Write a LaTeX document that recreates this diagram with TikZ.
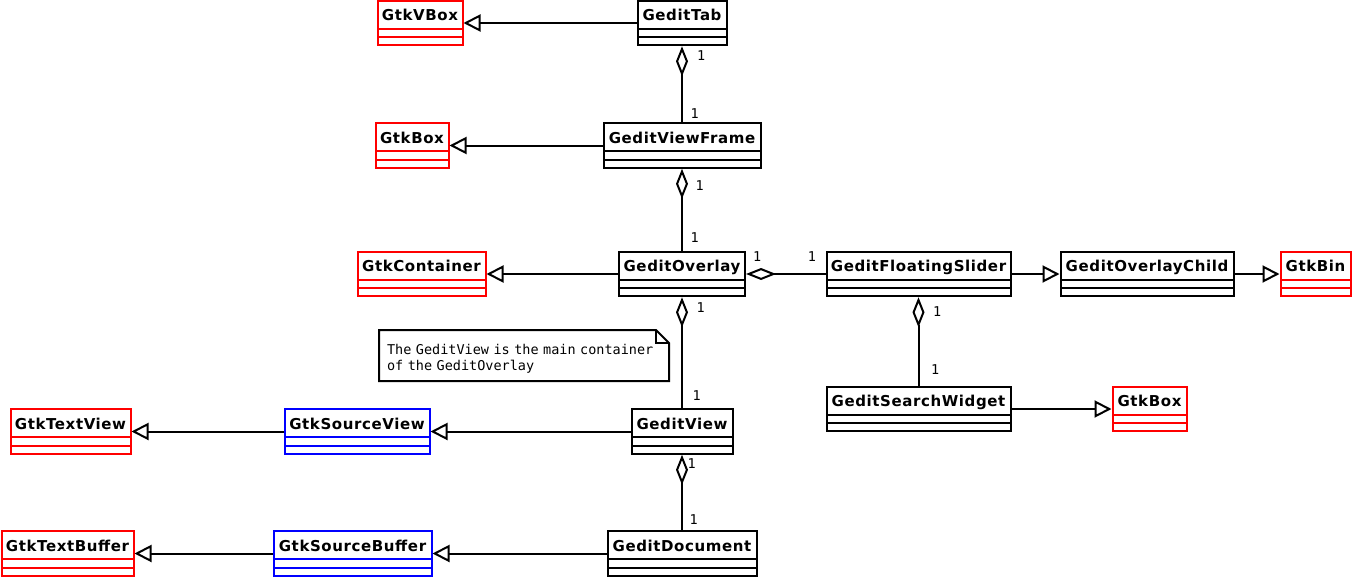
\documentclass[tikz,border=0pt]{standalone}
\usepackage{fontspec}
\newfontfamily\classfont[LetterSpace=4]{DejaVu Sans}
\newfontfamily\notefont{DejaVu Sans Mono}
\usepackage{tikz}
\usetikzlibrary{arrows.meta}
\usetikzlibrary{shapes.multipart,positioning,calc}
\tikzset{
	every path/.style = {line width=2pt},
	class/.style = {draw, rectangle split, rectangle split parts=3,
		rectangle split empty part height=0pt, rectangle split empty part depth=0pt,
		inner xsep=3pt, inner ysep=1pt,
		font=\classfont\bfseries\fontsize{15}{18}\selectfont,
		execute at begin node={\rule[-6pt]{0pt}{24pt}}},
	gtk/.style = {class, draw=red},
	src/.style = {class, draw=blue}
}

\begin{document}
\begin{tikzpicture}[x=1pt,y=-1pt,
	mult/.style={font=\notefont\fontsize{13.5}{16}\selectfont, inner sep=0pt},
	comment/.style={font=\notefont\fontsize{13.5}{16}\selectfont, align=left, anchor=north west,
		text width=274pt, inner xsep=7pt, minimum height=49pt},
	gen/.style={-{Triangle[open,length=17pt,width=17pt]}},
	agg/.style={{Diamond[open,length=30pt,width=12pt]}-}]
	\useasboundingbox (0,0) rectangle (1353,578);
	% main column
	\node[class, minimum width=89pt] (tab) at (682,23) {GeditTab};
	\node[class, minimum width=157pt, below of=tab, node distance=122.5pt] (frame) {GeditViewFrame};
	\node[class, minimum width=126pt, below of=frame, node distance=128.5pt] (overlay) {GeditOverlay};
	\node[class, minimum width=101pt, below of=overlay, node distance=157.5pt] (view) {GeditView};
	\node[class, minimum width=149pt, below of=view, node distance=122pt] (doc) {GeditDocument};
	% parents on the left
	\node[gtk, minimum width=85pt, left of=tab, node distance=262pt] (vbox) {GtkVBox};
	\node[gtk, minimum width=73pt, left of=frame, node distance=270pt] (box) {GtkBox};
	\node[gtk, minimum width=128pt, left of=overlay, node distance=260.5pt] (container) {GtkContainer};
	\node[src, minimum width=145pt, left of=view, node distance=325pt] (srcview) {GtkSourceView};
	\node[gtk, minimum width=120pt, left of=srcview, node distance=286.5pt] (textview) {GtkTextView};
	\node[src, minimum width=158pt, left of=doc, node distance=329.5pt] (srcbuf) {GtkSourceBuffer};
	\node[gtk, minimum width=132pt, left of=srcbuf, node distance=285pt] (textbuf) {GtkTextBuffer};
	% slider on the right
	\node[class, minimum width=184pt, right of=overlay, node distance=236.5pt] (slider) {GeditFloatingSlider};
	\node[class, minimum width=173pt, right of=slider, node distance=228.5pt] (child) {GeditOverlayChild};
	\node[gtk, minimum width=70pt, right of=child, node distance=168.5pt] (bin) {GtkBin};
	\node[class, minimum width=184pt, below of=slider, node distance=135pt] (search) {GeditSearchWidget};
	\node[gtk, minimum width=74pt, right of=search, node distance=231pt] (box2) {GtkBox};
	% note
	\node[comment] (note) at (379,330) {\rule{0pt}{16.3pt}The GeditView is the main container\\of the GeditOverlay};
	\draw (note.north west) -- ($(note.north east)+(-13,0)$) -- ($(note.north east)+(0,13)$)
		-- (note.south east) -- (note.south west) -- cycle;
	\draw ($(note.north east)+(-13,0)$) -- ++(0,13) -- ++(13,0);
	% inheritance
	\draw[gen] (tab) -- (vbox);
	\draw[gen] (frame) -- (box);
	\draw[gen] (overlay) -- (container);
	\draw[gen] (view) -- (srcview);
	\draw[gen] (srcview) -- (textview);
	\draw[gen] (doc) -- (srcbuf);
	\draw[gen] (srcbuf) -- (textbuf);
	\draw[gen] (slider) -- (child);
	\draw[gen] (child) -- (bin);
	\draw[gen] (search) -- (box2);
	% aggregation
	\draw[agg] (tab) -- node[mult, pos=0.12, right=14pt] {1} node[mult, pos=0.88, right=7.5pt] {1} (frame);
	\draw[agg] (frame) -- node[mult, pos=0.2, right=12.5pt] {1} node[mult, pos=0.84, right=7.5pt] {1} (overlay);
	\draw[agg] (overlay) -- node[mult, pos=0.09, right=13.5pt] {1} node[mult, pos=0.89, right=9.5pt] {1} (view);
	\draw[agg] (view) -- node[mult, pos=0.12, right=4.5pt] {1} node[mult, pos=0.86, right=6.5pt] {1} (doc);
	\draw[agg] (overlay) -- node[mult, pos=0.14, above=12pt] {1} node[mult, pos=0.83, above=12pt] {1} (slider);
	\draw[agg] (slider) -- node[mult, pos=0.16, right=13.5pt] {1} node[mult, pos=0.82, right=11.5pt] {1} (search);
\end{tikzpicture}
\end{document}
